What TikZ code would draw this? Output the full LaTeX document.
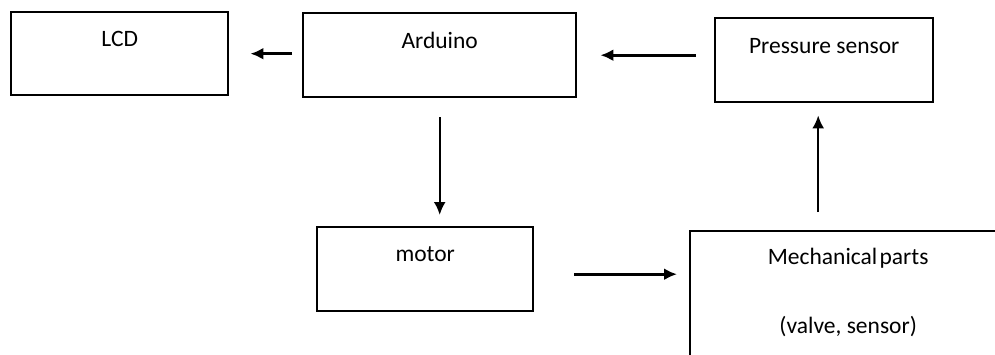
\documentclass[tikz,border=0pt]{standalone}
\usepackage{fontspec}
\setmainfont{Carlito}
\usetikzlibrary{arrows.meta, positioning}

\tikzset{
    blk/.style={draw, line width=2.4pt, anchor=north west, inner sep=0pt},
    lbl/.style={anchor=center, yshift=-28pt},
    flow/.style={->, line width=2.8pt},
}

\begin{document}
\begin{tikzpicture}[x=1pt, y=-1pt, font=\fontsize{23.5}{28}\selectfont, >={Latex[length=13pt,width=12pt]}]
    \clip (0,0) rectangle (995,354);
    \node[blk, minimum width=217pt, minimum height=83pt, label={[lbl]north:LCD}] (lcd) at (10,11) {};
    \node[blk, minimum width=273pt, minimum height=84pt, label={[lbl]north:Arduino}] (ard) at (302,12) {};
    \node[blk, minimum width=218pt, minimum height=84pt, label={[lbl, yshift=-1pt]north:Pressure sensor}] (press) at (714,17) {};
    \node[blk, minimum width=216pt, minimum height=84pt, label={[lbl]north:motor}] (mot) at (316,226) {};
    \node[blk, minimum width=316pt, minimum height=150pt, label={[lbl]north:Mechanical\hspace{0.1em}parts}, label={[lbl, yshift=-69pt]north:{(valve, sensor)}}] (mech) at (689,230) {};

    \draw[flow, shorten <=10pt, shorten >=21pt] (ard.west |- lcd.east) -- (lcd.east);
    \draw[flow, shorten <=18pt, shorten >=23pt] (press.west |- ard.east) -- (ard.east);
    \draw[flow, line width=2.3pt, shorten <=19pt, shorten >=11pt] (ard.south) -- (ard.south |- mot.north);
    \draw[flow, shorten <=40pt, shorten >=12pt] ([yshift=-5pt]mot.east) -- ([yshift=-5pt]mot.east -| mech.west);
    \draw[flow, line width=2.3pt, shorten <=18pt, shorten >=12pt] ([xshift=-6pt]press.south |- mech.north) -- ([xshift=-6pt]press.south);
\end{tikzpicture}
\end{document}
